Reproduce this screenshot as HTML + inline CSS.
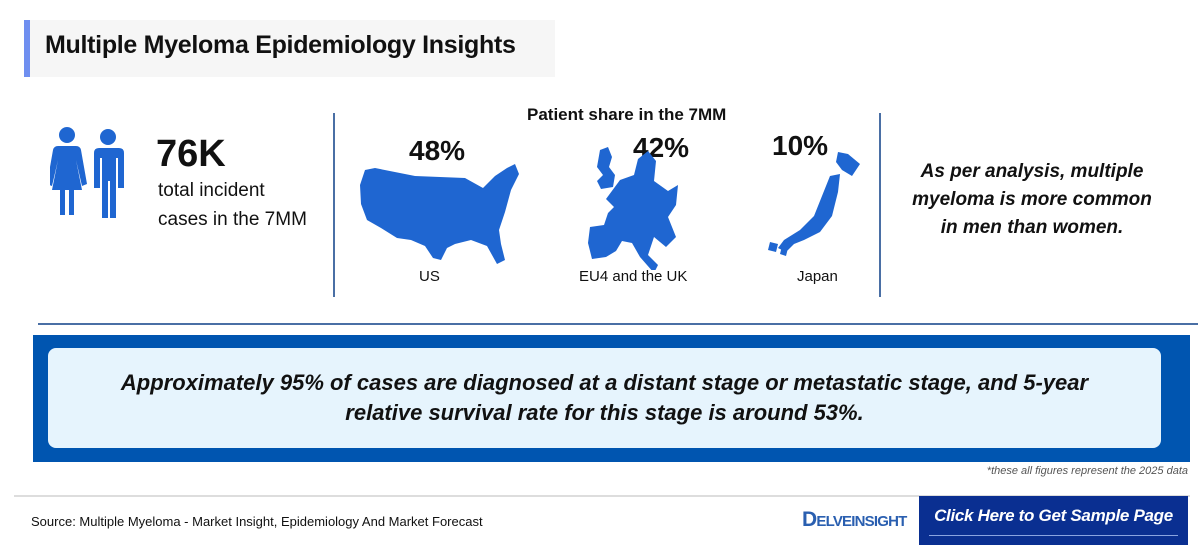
<!DOCTYPE html>
<html><head><meta charset="utf-8"><style>
*{margin:0;padding:0;box-sizing:border-box}
body{width:1200px;height:548px;background:#fff;position:relative;overflow:hidden;font-family:"Liberation Sans",sans-serif;color:#111}
.a{position:absolute;white-space:nowrap}
</style></head><body>
<div class="a" style="left:24px;top:20px;width:531px;height:57px;background:#f6f6f6;border-left:6px solid #6f8ff0"></div>
<div class="a" style="left:45px;top:31px;font-size:25px;font-weight:bold;color:#111;letter-spacing:-0.3px">Multiple Myeloma Epidemiology Insights</div>

<svg class="a" style="left:50px;top:125px" width="80" height="95" viewBox="0 0 80 95">
<g fill="#1f66d1">
<circle cx="17" cy="10" r="8"/>
<path d="M8 21 h18 q4 0 5 4 l6 34 -5 2 -6 -26 6 30 h-8 v25 h-5 v-25 h-4 v25 h-5 v-25 h-8 l6 -30 -6 26 -5 -2 6 -34 q1 -4 5 -4z"/>
<circle cx="58" cy="12" r="8"/>
<path d="M47 23 h22 q5 0 5 5 v35 h-6 v-30 h-2 v60 h-6 v-37 h-2 v37 h-6 v-60 h-2 v30 h-6 v-35 q0 -5 5 -5z"/>
</g></svg>
<div class="a" style="left:156px;top:133px;font-size:38px;font-weight:bold">76K</div>
<div class="a" style="left:158px;top:176px;font-size:19px;line-height:29px">total incident<br>cases in the 7MM</div>

<div class="a" style="left:333px;top:113px;width:2px;height:184px;background:#4a6fa5"></div>
<div class="a" style="left:879px;top:113px;width:2px;height:184px;background:#4a6fa5"></div>

<div class="a" style="left:527px;top:105px;font-size:17px;font-weight:bold">Patient share in the 7MM</div>
<div class="a" style="left:409px;top:135px;font-size:28px;font-weight:bold">48%</div>
<div class="a" style="left:633px;top:132px;font-size:28px;font-weight:bold">42%</div>
<div class="a" style="left:772px;top:130px;font-size:28px;font-weight:bold">10%</div>

<svg class="a" style="left:355px;top:160px" width="170" height="110" viewBox="0 0 170 110">
<path fill="#1f66d1" d="M10 10 L20 8 60 16 110 18 128 28 140 16 152 8 160 4 164 14 156 30 150 52 144 70 146 84 150 100 142 104 132 86 116 80 100 84 92 88 86 100 78 98 70 86 56 80 42 78 26 68 12 60 6 44 5 25z"/>
</svg>
<svg class="a" style="left:585px;top:145px" width="120" height="125" viewBox="0 0 120 125">
<path fill="#1f66d1" d="M15 5 l8 -3 4 10 -3 10 6 8 -2 12 -12 2 -4 -8 6 -6 -6 -8z M35 35 l14 -5 4 -16 10 -8 8 10 -2 20 14 10 10 -6 -2 20 -8 12 8 20 -10 10 -12 -10 -6 18 10 10 -4 8 -14 -16 -8 -14 -10 -2 -6 10 -10 6 -14 2 -4 -16 2 -16 14 -2 4 -12 6 -6 -8 -8z"/>
</svg>
<svg class="a" style="left:762px;top:148px" width="105" height="120" viewBox="0 0 105 120">
<path fill="#1f66d1" d="M76 4 l10 2 12 10 -8 12 -10 -6 -6 -8z M68 28 l10 -2 -2 18 -6 24 -12 16 -16 8 -10 4 -8 8 -8 -4 6 -8 16 -10 14 -14 8 -20z M8 94 l8 2 -2 8 -8 -2z M20 98 l6 2 -2 8 -6 -2z"/>
</svg>
<div class="a" style="left:419px;top:268px;font-size:15px">US</div>
<div class="a" style="left:579px;top:268px;font-size:15px">EU4 and the UK</div>
<div class="a" style="left:797px;top:268px;font-size:15px">Japan</div>

<div class="a" style="left:882px;top:158px;width:300px;text-align:center;font-size:19px;font-weight:bold;font-style:italic;line-height:28px">As per analysis, multiple<br>myeloma is more common<br>in men than women.</div>

<div class="a" style="left:38px;top:323px;width:1160px;height:2px;background:#4a6fa5"></div>
<div class="a" style="left:33px;top:335px;width:1157px;height:127px;background:#0055b0"></div>
<div class="a" style="left:48px;top:348px;width:1113px;height:100px;background:#e6f4fd;border-radius:8px"></div>
<div class="a" style="left:48px;top:368px;width:1113px;text-align:center;font-size:22px;font-weight:bold;font-style:italic;line-height:30px">Approximately 95% of cases are diagnosed at a distant stage or metastatic stage, and 5-year<br>relative survival rate for this stage is around 53%.</div>
<div class="a" style="right:12px;top:465px;font-size:11px;font-style:italic;color:#555">*these all figures represent the 2025 data</div>

<div class="a" style="left:14px;top:495px;width:1176px;height:2px;background:#ddd"></div>
<div class="a" style="left:31px;top:514px;font-size:13px">Source: Multiple Myeloma - Market Insight, Epidemiology And Market Forecast</div>
<div class="a" style="left:802px;top:508px;font-size:15px;font-weight:bold;color:#2a5fb0;letter-spacing:-0.8px"><span style="font-size:21px">D</span>ELVEINSIGHT</div>
<div class="a" style="left:919px;top:496px;width:269px;height:49px;background:#0a2f91"></div>
<div class="a" style="left:919px;top:506px;width:269px;text-align:center;font-size:17px;font-weight:bold;font-style:italic;color:#fff;letter-spacing:-0.3px">Click Here to Get Sample Page</div>
<div class="a" style="left:929px;top:535px;width:249px;height:1px;background:#8aa4e0"></div>
</body></html>
